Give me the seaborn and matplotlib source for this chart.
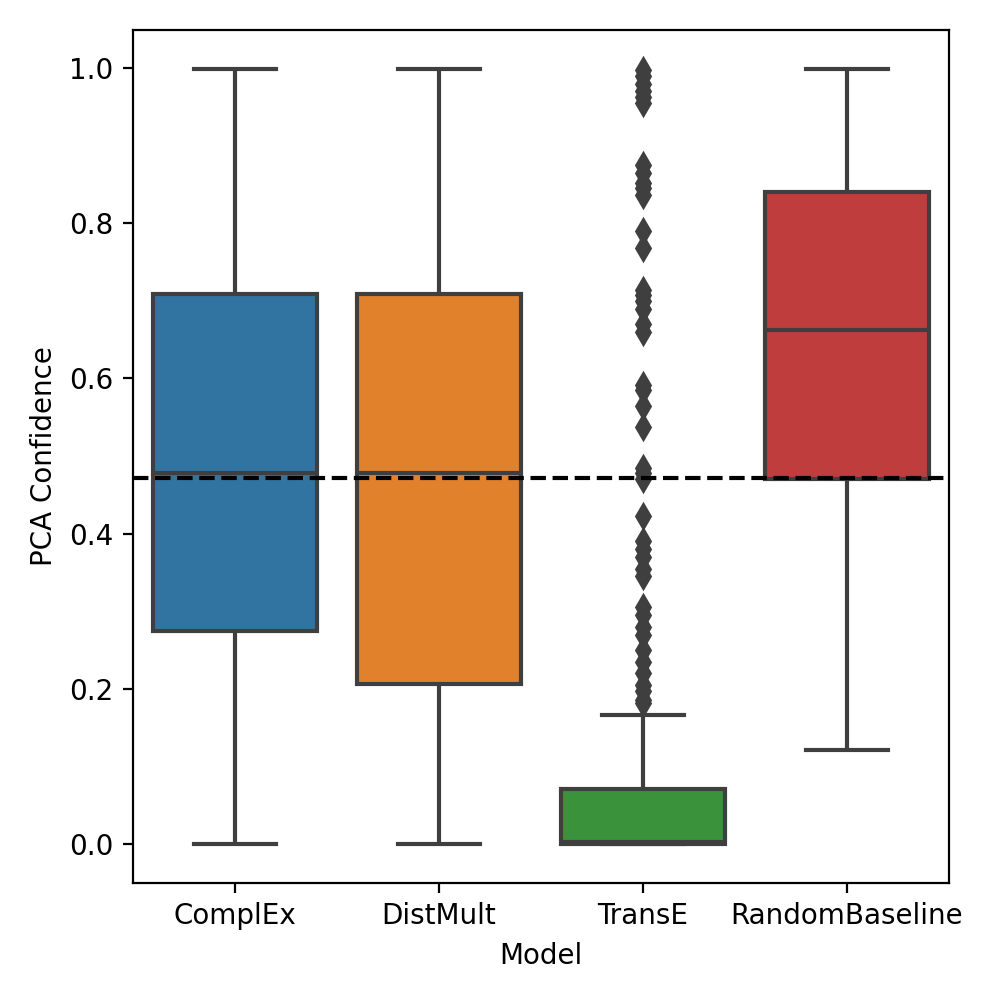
import numpy as np
import pandas as pd
import matplotlib
matplotlib.use("Agg")
import matplotlib.pyplot as plt
import seaborn as sns

models = ["ComplEx", "DistMult", "TransE", "RandomBaseline"]

# values (min, q1, median, q3, max) for the simple boxes
complex_conf = [0.0, 0.275, 0.478, 0.709, 0.999]
distmult_conf = [0.0, 0.207, 0.478, 0.709, 0.999]
random_conf = [0.122, 0.471, 0.663, 0.840, 0.999]

# TransE: mostly near zero, with a long tail of outliers
transe_vals = [0.0, 0.001, 0.002, 0.003, 0.01, 0.02, 0.03, 0.04, 0.05, 0.06, 0.071,
               0.09, 0.11, 0.13, 0.15, 0.167]
transe_counts = [60, 20, 16, 20, 6, 6, 5, 4, 4, 3, 1,
                 1, 1, 1, 1, 1]
transe_outliers = [0.182, 0.186, 0.197, 0.205, 0.22, 0.235, 0.25, 0.27, 0.28, 0.295, 0.305,
                   0.345, 0.355, 0.37, 0.38, 0.39,
                   0.423, 0.47, 0.478, 0.485,
                   0.537, 0.564, 0.585, 0.592,
                   0.66, 0.67, 0.69, 0.70, 0.708, 0.714,
                   0.768, 0.79,
                   0.837, 0.845, 0.852, 0.865, 0.875,
                   0.955, 0.962, 0.97, 0.98, 0.99, 0.997]

baseline = 0.472

transe_conf = list(np.repeat(transe_vals, transe_counts)) + transe_outliers

df = pd.concat([
    pd.DataFrame({"Model": "ComplEx", "PCA Confidence": complex_conf}),
    pd.DataFrame({"Model": "DistMult", "PCA Confidence": distmult_conf}),
    pd.DataFrame({"Model": "TransE", "PCA Confidence": transe_conf}),
    pd.DataFrame({"Model": "RandomBaseline", "PCA Confidence": random_conf}),
], ignore_index=True)

fig, ax = plt.subplots(figsize=(5, 5), dpi=200)
sns.boxplot(data=df, x="Model", y="PCA Confidence", hue="Model", order=models,
            hue_order=models, palette="tab10", saturation=0.75, legend=False,
            linecolor="#3f3f3f", linewidth=1.5,
            flierprops=dict(marker="d", markerfacecolor="#3f3f3f",
                            markeredgecolor="#3f3f3f", markersize=6), ax=ax)
ax.axhline(baseline, color="black", linestyle="--", linewidth=1.5)

fig.subplots_adjust(left=0.133, right=0.949, bottom=0.117, top=0.97)
fig.savefig("out.png", dpi=200)
